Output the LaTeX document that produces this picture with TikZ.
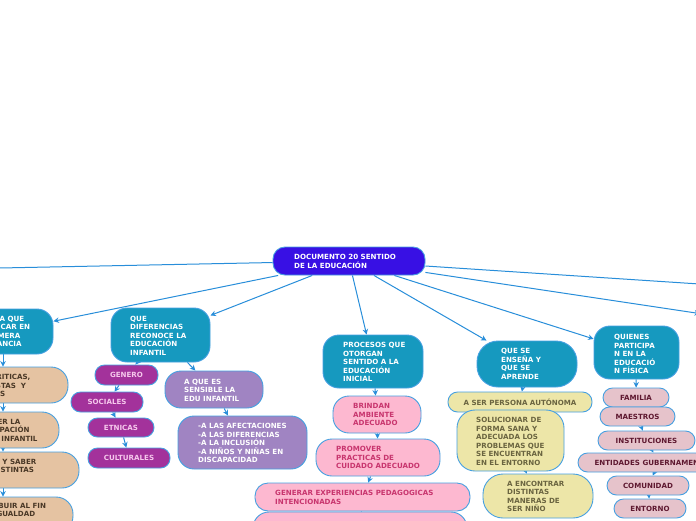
\documentclass[tikz,border=0pt]{standalone}
\usepackage{fontspec}
\setmainfont{DejaVu Sans}
\usetikzlibrary{arrows.meta}
\definecolor{rootc}{RGB}{56,16,228}
\definecolor{tealc}{RGB}{22,153,191}
\definecolor{linec}{RGB}{40,142,218}
\definecolor{edgec}{RGB}{70,160,225}
\definecolor{tanc}{RGB}{229,195,162}
\definecolor{tant}{RGB}{74,56,38}
\definecolor{purc}{RGB}{163,50,155}
\definecolor{purt}{RGB}{246,200,236}
\definecolor{lavc}{RGB}{160,132,194}
\definecolor{pinkc}{RGB}{253,184,208}
\definecolor{pinkt}{RGB}{200,53,110}
\definecolor{yelc}{RGB}{237,230,168}
\definecolor{yelt}{RGB}{106,100,64}
\definecolor{mauc}{RGB}{230,195,203}
\definecolor{maut}{RGB}{94,24,48}
\pgfdeclarelayer{paper}
\pgfdeclarelayer{bg}
\pgfsetlayers{paper,bg,main}
\begin{document}
\begin{tikzpicture}[x=1pt,y=-1pt,
  fnt/.style={font=\fontsize{7.1}{8.5}\selectfont\bfseries},
  box/.style={draw=edgec, line width=0.9pt, inner sep=0pt, fnt},
  bx/.style 2 args={minimum width=#1pt, minimum height=#2pt},
  rootb/.style={box, fill=rootc, text=white, rounded corners=12pt},
  tealb/.style={box, fill=tealc, text=white, rounded corners=16pt},
  tanb/.style={box, fill=tanc, text=tant, rounded corners=17pt},
  purb/.style={box, fill=purc, text=purt, rounded corners=9.5pt},
  lavb/.style={box, fill=lavc, text=white, rounded corners=16pt},
  pinkb/.style={box, fill=pinkc, text=pinkt, rounded corners=16pt},
  yelb/.style={box, fill=yelc, text=yelt, rounded corners=9.5pt},
  maub/.style={box, fill=mauc, text=maut, rounded corners=9.5pt},
  txt/.style={anchor=west, align=left, inner sep=0pt, fnt},
  conn/.style={draw=linec, line width=1pt, -{Stealth[length=5.5pt,width=5.5pt]}}
]
\useasboundingbox (0,0) rectangle (696,520);
\begin{pgfonlayer}{paper}
\fill[white] (0,0) rectangle (696,520);
\end{pgfonlayer}
\clip (0,0) rectangle (696,520);

% root
\node[rootb, bx={152}{28}] (root) at (349,261) {};
\node[txt, text=white] (troot) at (294,261.5) {DOCUMENTO 20 SENTIDO\\DE LA EDUCACIÓN};

% teal level-1 nodes
\node[tealb, bx={100}{45}] (para) at (3,331.5) {};
\node[txt, text=white] (tpara) at (-16,331.5) {PARA QUE\\EDUCAR EN\\PRIMERA\\INFANCIA};
\node[tealb, bx={99}{54}] (dif) at (160.5,335) {};
\node[txt, text=white] (tdif) at (130,335.5) {QUE\\DIFERENCIAS\\RECONOCE LA\\EDUCACIÓN\\INFANTIL};
\node[tealb, bx={100}{53}] (proc) at (373,361.5) {};
\node[txt, text=white] (tproc) at (343,362) {PROCESOS QUE\\OTORGAN\\SENTIDO A LA\\EDUCACIÓN\\INICIAL};
\node[tealb, rounded corners=21pt, bx={100}{46}] (ense) at (527,364) {};
\node[txt, text=white] (tense) at (501,364) {QUE SE\\ENSEÑA Y\\QUE SE\\APRENDE};
\node[tealb, bx={85}{53}] (quien) at (636.5,352.5) {};
\node[txt, text=white] (tquien) at (614,354) {QUIENES\\PARTICIPA\\N EN LA\\EDUCACIÓ\\N FÍSICA};

% tan column
\node[tanb, bx={130}{36}] (tan1) at (3,385) {};
\node[txt, text=tant] (ttan1) at (-27,385.5) {SER CRITICAS,\\HONESTAS~ Y\\FELICES};
\node[tanb, bx={112}{36}] (tan2) at (3,430) {};
\node[txt, text=tant] (ttan2) at (-31,430) {CONOCER LA\\PARTICIPACIÓN\\EN EDU INFANTIL};
\node[tanb, bx={152}{36}] (tan3) at (3,470) {};
\node[txt, text=tant] (ttan3) at (-39,466) {CONOCER Y SABER\\EN LAS DISTINTAS};
\node[tanb, bx={140}{36}] (tan4) at (3,515) {};
\node[txt, text=tant] (ttan4) at (-32,510) {CONTRIBUIR AL FIN\\DE LA IGUALDAD};

% purple
\node[purb, bx={63}{20}] (gen) at (126.5,375) {GENERO};
\node[purb, bx={72}{20}] (soc) at (107,402) {SOCIALES};
\node[purb, bx={66}{19}] (etn) at (121,427.5) {ETNICAS};
\node[purb, bx={82}{20}] (cul) at (129,458) {CULTURALES};

% lavender
\node[lavb, bx={98}{37}] (sens) at (214,389.5) {};
\node[txt, text=white] (tsens) at (184,390) {A QUE ES\\SENSIBLE LA\\EDU INFANTIL};
\node[lavb, bx={129}{53}] (afec) at (242.5,442.5) {};
\node[txt, text=white] (tafec) at (198,443) {-A LAS AFECTACIONES\\-A LAS DIFERENCIAS\\-A LA INCLUSIÓN\\-A NIÑOS Y NIÑAS EN\\DISCAPACIDAD};

% pink
\node[pinkb, bx={88}{37}] (brin) at (377,414.5) {};
\node[txt, text=pinkt] (tbrin) at (353,414.5) {BRINDAN\\AMBIENTE\\ADECUADO};
\node[pinkb, bx={124}{37}] (prom) at (378,457.5) {};
\node[txt, text=pinkt] (tprom) at (336,457.5) {PROMOVER\\PRACTICAS DE\\CUIDADO ADECUADO};
\node[pinkb, bx={214}{36}] (lastp) at (360,530) {};
\node[pinkb, rounded corners=13pt, bx={215}{28}] (gene) at (362.5,497) {};
\node[txt, text=pinkt] (tgene) at (275,497.5) {GENERAR EXPERIENCIAS PEDAGOGICAS\\INTENCIONADAS};

% yellow
\node[yelb, bx={144}{20}] (aser) at (520,402) {A SER PERSONA AUTÓNOMA};
\node[yelb, rounded corners=18pt, bx={107}{61}] (solu) at (510.5,440.5) {};
\node[txt, text=yelt] (tsolu) at (476,441.5) {SOLUCIONAR DE\\FORMA SANA Y\\ADECUADA LOS\\PROBLEMAS QUE\\SE ENCUENTRAN\\EN EL ENTORNO};
\node[yelb, rounded corners=20pt, bx={110}{44}] (enco) at (538,496) {};
\node[txt, text=yelt] (tenco) at (507,496.5) {A ENCONTRAR\\DISTINTAS\\MANERAS DE\\SER NIÑO};

% mauve
\node[maub, bx={66}{19}] (fam) at (636,397.5) {FAMILIA};
\node[maub, bx={75}{19}] (mae) at (637.5,416.5) {MAESTROS};
\node[maub, bx={97}{19}] (inst) at (646.5,440.5) {INSTITUCIONES};
\node[maub, bx={162}{19}] (enti) at (659,462.5) {ENTIDADES GUBERNAMENTALES};
\node[maub, bx={82}{19}] (com) at (648,485.5) {COMUNIDAD};
\node[maub, bx={72}{19}] (ento) at (650,508.5) {ENTORNO};

% free ends off the page
\coordinate (offL) at (-100,270);
\coordinate (offRa) at (800,290.6);
\coordinate (offRb) at (700,313.6);

\begin{pgfonlayer}{bg}
\clip (0,0) rectangle (696,520);
\draw[conn] (root) -- (offL);
\draw[conn] (root) -- (para);
\draw[conn] (root) -- (dif);
\draw[conn] (root) -- (proc);
\draw[conn] (root) -- (ense);
\draw[conn] (root) -- (quien);
\draw[conn] (root) -- (offRa);
\draw[conn] (root) -- (offRb);
\draw[conn] (para) -- (tan1);
\draw[conn] (tan1) -- (tan2);
\draw[conn] (tan2) -- (tan3);
\draw[conn] (tan3) -- (tan4);
\draw[conn] (dif) -- (gen);
\draw[conn] (gen) -- (soc);
\draw[conn] (soc) -- (etn);
\draw[conn] (etn) -- (cul);
\draw[conn] (dif) -- (sens);
\draw[conn] (sens) -- (afec);
\draw[conn] (proc) -- (brin);
\draw[conn] (brin) -- (prom);
\draw[conn] (prom) -- (gene);
\draw[conn] (gene) -- (lastp);
\draw[conn] (ense) -- (aser);
\draw[conn] (aser) -- (solu);
\draw[conn] (solu) -- (enco);
\draw[conn] (quien) -- (fam);
\draw[conn] (fam) -- (mae);
\draw[conn] (mae) -- (inst);
\draw[conn] (inst) -- (enti);
\draw[conn] (enti) -- (com);
\draw[conn] (com) -- (ento);
\end{pgfonlayer}
\end{tikzpicture}
\end{document}
